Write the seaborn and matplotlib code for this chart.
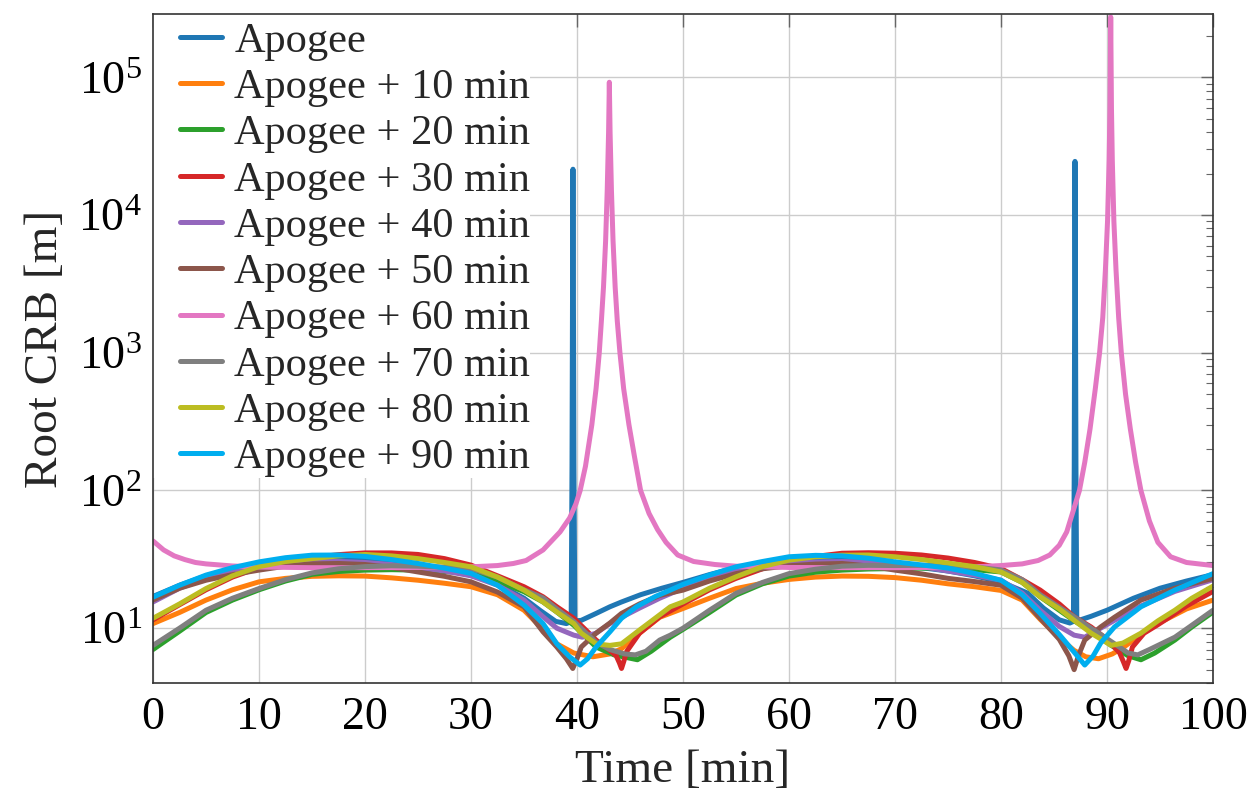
import matplotlib
matplotlib.use("Agg")
import matplotlib.pyplot as plt
import pandas as pd
import seaborn as sns
from matplotlib.lines import Line2D
from matplotlib.patches import Rectangle
from matplotlib.ticker import LogLocator, NullFormatter, FixedLocator

sns.set_style("white")
plt.rcParams["font.family"] = ["Liberation Serif", "DejaVu Serif"]
plt.rcParams["mathtext.fontset"] = "custom"
plt.rcParams["mathtext.rm"] = "Liberation Serif"
plt.rcParams["mathtext.it"] = "Liberation Serif:italic"
plt.rcParams["mathtext.bf"] = "Liberation Serif:bold"

# ---------------- data ----------------
labels = ["Apogee", "Apogee + 10 min", "Apogee + 20 min", "Apogee + 30 min",
          "Apogee + 40 min", "Apogee + 50 min", "Apogee + 60 min",
          "Apogee + 70 min", "Apogee + 80 min", "Apogee + 90 min"]

t_apogee = [0, 2.5, 5, 7.5, 10, 12.5, 15, 17.5, 20, 22.5, 25, 27.5, 30, 32.5, 35, 36.5, 38, 39,
            39.45, 39.53, 39.58, 39.62, 39.66, 39.71, 39.8, 40.4, 41.8, 43.1, 44.2, 46, 48, 50,
            52.5, 55, 57.5, 60, 62.5, 65, 67.5, 70, 72.5, 75, 77.5, 80, 82.5, 84, 85.5, 86.5,
            86.83, 86.91, 86.95, 86.98, 87.02, 87.07, 87.15, 87.5, 88.5, 90, 92.5, 95, 97.5, 100]
crb_apogee = [17, 20.5, 24, 27, 29.5, 31, 32, 32.3, 31.8, 30.5, 28.5, 26.5, 24.3, 21, 16.5, 13.5, 11.2, 10.8,
              11.2, 150, 3000, 21500, 3000, 150, 11.3, 11.4, 12.8, 14.3, 15.5, 17.5, 19.5, 21.5,
              24.5, 27.5, 30, 31.2, 31.8, 31.5, 30.5, 29, 27.5, 26, 24, 21.7, 18, 14, 11.5, 10.9,
              11.2, 150, 3000, 24500, 3000, 150, 11.3, 11.5, 12.2, 13.5, 16.5, 19.5, 22, 24.5]

t_10 = [0, 2.5, 5, 7.5, 10, 12.5, 15, 17.5, 20, 22.5, 25, 27.5, 30, 32.5, 35, 36.8, 38.1, 39.7,
        41.5, 43.1, 44.2, 45.9, 47.8, 50, 52.5, 55, 57.5, 60, 62.5, 65, 67.5, 70, 72.5, 75, 77.5,
        80, 82, 83.7, 85.5, 86.9, 88, 89.2, 90.5, 91.6, 93, 94.8, 97.5, 100]
crb_10 = [10.8, 13, 16, 19, 21.7, 23, 23.8, 24, 23.9, 23.2, 22.3, 21.2, 20, 17.5, 13.5, 9.8, 7.7, 6.6,
          6.2, 6.5, 7.1, 9.2, 12, 13.9, 16.5, 19.4, 21.2, 22.6, 23.5, 23.9, 23.8, 23.3, 22.3, 21, 20,
          18.8, 16, 11.6, 8.5, 6.9, 6.2, 6.0, 6.5, 7.3, 8.8, 10.8, 13.8, 16]

t_20 = [0, 2.5, 5, 7.5, 10, 12.5, 15, 17.5, 20, 22.5, 25, 27.5, 30, 32.5, 35, 36.8, 38.1, 39.7,
        41.8, 43.5, 45.7, 47, 48.8, 50, 52.5, 55, 57.5, 60, 62.5, 65, 67.5, 70, 72.5, 75, 77.5,
        80, 82, 83.7, 85.5, 87, 88.5, 90.4, 92, 93.2, 94.5, 96.4, 98, 100]
crb_20 = [7.0, 9.5, 13, 16, 19, 22, 24.6, 25.8, 26.4, 26.6, 26.4, 25.8, 25, 22, 18.4, 15.5, 13.1, 10.5,
          7.3, 6.4, 5.9, 6.8, 8.6, 9.8, 13, 17.4, 21, 23.9, 25.5, 26.4, 26.9, 27.1, 27.3, 27.2, 26.6,
          25.6, 21.5, 16.9, 13.5, 11.2, 9.5, 7.5, 6.3, 5.9, 6.6, 8.2, 10.2, 13.1]

t_30 = [0, 2.5, 5, 7.5, 10, 12.5, 15, 17.5, 20, 22.5, 25, 27.5, 30, 32.5, 35, 36.8, 38.1, 39.7,
        41.8, 43.1, 43.7, 44.0, 44.2, 44.4, 44.7, 45.9, 47.8, 50, 52.5, 55, 57.5, 60, 62.5, 65,
        67.5, 70, 72.5, 75, 77.5, 80, 82, 83.7, 85.5, 86.9, 88.5, 90.1, 91.2, 91.55, 91.8, 92.05,
        92.4, 93.5, 94.8, 97.5, 100]
crb_30 = [11.5, 14.8, 19, 23.5, 27.5, 30.5, 32.5, 34.2, 35.2, 35.2, 34.3, 32, 28.7, 24, 20, 16.9, 14.3, 11.8,
          8.2, 6.9, 6.3, 5.6, 5.1, 5.7, 6.8, 9.2, 12.1, 15, 19, 23, 27, 31, 33.2, 35,
          35.3, 35, 34, 32.3, 30, 27.1, 22.5, 18.9, 15, 12.1, 10.2, 8.2, 6.6, 5.7, 5.1, 5.8,
          7.3, 9.2, 10.6, 14.5, 18.5]

t_40 = [0, 2.5, 5, 7.5, 10, 12.5, 15, 17.5, 20, 22.5, 25, 27.5, 30, 32.5, 35, 36.8, 38.1, 39.7,
        40.5, 41.8, 43.1, 44.2, 45.9, 47.8, 50, 52.5, 55, 57.5, 60, 62.5, 65, 67.5, 70, 72.5, 75,
        77.5, 80, 82, 83.7, 85.5, 86.9, 87.9, 89.4, 90.7, 93.2, 96.4, 100]
crb_40 = [15.5, 19.5, 23, 26.5, 29, 30.2, 30.5, 30.5, 30, 29, 27.5, 26, 24, 20.5, 16, 12.1, 10, 8.9,
          8.6, 9.2, 10.8, 12, 14, 16.5, 19.5, 23, 26.5, 28.5, 29.5, 30.2, 30.5, 30.2, 29, 28, 26,
          24.3, 22.3, 18, 13.5, 10.3, 8.9, 8.6, 10, 11.4, 14.5, 18.5, 22.5]

t_50 = [0, 2.5, 5, 7.5, 10, 12.5, 15, 17.5, 20, 22.5, 25, 27.5, 30, 32.5, 35, 36.8, 38.1, 39.0,
        39.6, 40.0, 40.4, 41.8, 43.1, 44.2, 45.9, 47.8, 50, 52.5, 55, 57.5, 60, 62.5, 65, 67.5,
        70, 72.5, 75, 77.5, 80, 82, 83.7, 85.5, 86.4, 86.9, 87.3, 87.9, 89.4, 90.7, 93.2, 96.4, 100]
crb_50 = [16, 19.5, 22.3, 24.5, 26.4, 28.2, 29.3, 29.5, 29, 27.6, 25.6, 23.8, 21.7, 18.3, 14.3, 9.4, 7.3, 6.0,
          5.1, 6.0, 7.3, 9.2, 10.9, 12.8, 15, 17.3, 18.9, 22, 24.9, 27, 28.4, 29.2, 29.5, 28.3,
          26.4, 24.8, 23, 21.8, 20.5, 16.5, 11.8, 8.3, 6.3, 5.0, 6.3, 8.2, 10.2, 12, 16, 19.5, 23]

t_60 = [0, 1, 2, 3, 4, 5, 7.5, 10, 15, 20, 25, 30, 32.5, 34, 35.2, 36.8, 38.4, 39.3, 39.9,
        40.3, 40.8, 41.4, 41.8, 42.1, 42.3, 42.5, 42.7, 42.85, 42.98, 43.05, 43.12, 43.25, 43.4,
        43.6, 43.8, 44.05, 44.4, 44.9, 45.4, 46.0, 46.8, 47.6, 48.4, 49.5, 51, 53, 55, 60, 65,
        70, 75, 78, 80, 82, 83.5, 84.6, 85.5, 86.2, 87.1, 87.4, 87.9, 88.4, 88.9, 89.3, 89.6,
        89.85, 90.05, 90.2, 90.28, 90.35, 90.42, 90.5, 90.65, 90.85, 91.1, 91.35, 91.75, 92.2,
        92.7, 93.2, 94.0, 94.8, 96, 97.5, 100]
crb_60 = [43, 37, 33.5, 31.5, 30, 29.3, 28.3, 27.8, 27.5, 27.5, 27.6, 27.9, 28.5, 29.5, 31, 37, 50, 63, 80,
          100, 150, 300, 550, 1000, 1700, 3000, 6500, 15000, 40000, 92000, 40000, 15000, 6500,
          3000, 1700, 1000, 550, 300, 180, 100, 68, 52, 42, 34, 30.5, 29, 28.2, 27.6, 27.5,
          27.5, 27.7, 28, 28.5, 29.3, 31, 34, 40, 50, 84, 100, 160, 280, 550, 1000, 1800,
          4000, 9000, 25000, 60000, 274000, 60000, 25000, 9000, 4000, 1800, 1000, 500, 280,
          160, 100, 60, 42, 33, 30, 28.5]

t_70 = [0, 2.5, 5, 7.5, 10, 12.5, 15, 17.5, 20, 22.5, 25, 27.5, 30, 32.5, 35, 36.8, 38.1, 39.7,
        41.8, 43.1, 44.5, 45.5, 46.5, 47.8, 48.8, 50, 52.5, 55, 57.5, 60, 62.5, 65, 67.5, 70, 72.5,
        75, 77.5, 80, 82, 83.7, 85.5, 86.9, 88.5, 90.4, 92, 92.9, 94, 96.4, 98, 100]
crb_70 = [7.5, 10, 13.5, 16.5, 19.4, 22.5, 25.2, 27, 28, 28.4, 28.2, 27.7, 27.1, 23.5, 19, 16.6, 13.8, 11.2,
          7.9, 7.0, 6.5, 6.4, 6.8, 8.2, 8.9, 10, 13.5, 17.9, 21.5, 24.9, 26.8, 28.2, 28.6, 28.5, 28.6,
          28.6, 27.8, 26.5, 22.5, 17.5, 14.2, 12.1, 10, 8, 6.6, 6.4, 7, 8.6, 10.5, 13.5]

t_80 = [0, 2.5, 5, 7.5, 10, 12.5, 15, 17.5, 20, 22.5, 25, 27.5, 30, 32.5, 35, 36.8, 38.1, 39.7,
        40.4, 41.8, 43.1, 44.2, 45.9, 47.8, 48.8, 50, 52.5, 55, 57.5, 60, 62.5, 65, 67.5, 70, 72.5,
        75, 77.5, 80, 82, 83.7, 85.5, 86.9, 88.5, 90.4, 91.5, 93.2, 94.8, 96.4, 98, 100]
crb_80 = [11.8, 15, 19.4, 24, 28, 30.5, 32, 33.5, 34.3, 33.5, 32, 30, 27.9, 23.5, 18.9, 15.5, 13.1, 10.8,
          9.2, 7.7, 7.5, 7.7, 9.7, 12.5, 14.3, 15.5, 19.5, 23.6, 28, 31.2, 33, 33.9, 34, 33, 31.5,
          29.7, 28, 25.6, 21.5, 16.9, 13.8, 11.4, 9.2, 7.5, 7.8, 9.2, 11.3, 13.5, 16.5, 20.2]

t_90 = [0, 2.5, 5, 7.5, 10, 12.5, 15, 17.5, 20, 22.5, 25, 27.5, 30, 32.5, 35, 36.8, 38.1, 39.3,
        40.3, 41.0, 41.8, 43.1, 44.2, 45.6, 47.4, 48.8, 50, 52.5, 55, 57.5, 60, 62.5, 65, 67.5, 70,
        72.5, 75, 77.5, 80, 82, 83.7, 85.5, 86.9, 87.9, 88.7, 89.4, 90.7, 93.2, 96.4, 100]
crb_90 = [16.8, 20.5, 24.3, 27.5, 30.3, 32.5, 33.9, 34, 33.2, 31.5, 29.5, 27.3, 25, 20.5, 14.7, 10.8, 7.7, 6.2,
          5.4, 6.0, 7.3, 9.4, 11.8, 14.3, 17, 18.9, 20.8, 24.3, 27.9, 30.5, 33, 33.8, 33.5, 32.2, 30.3,
          28.8, 27.3, 25, 22.3, 17.5, 12.8, 9, 6.7, 5.4, 6.3, 7.8, 10.2, 14.3, 18.9, 24.9]

times = [t_apogee, t_10, t_20, t_30, t_40, t_50, t_60, t_70, t_80, t_90]
values = [crb_apogee, crb_10, crb_20, crb_30, crb_40, crb_50, crb_60, crb_70, crb_80, crb_90]

colors = ["#1f77b4", "#ff7f0e", "#2ca02c", "#d62728", "#9467bd",
          "#8c564b", "#e377c2", "#7f7f7f", "#bcbd22", "#00aeef"]

x_ticks = [0, 10, 20, 30, 40, 50, 60, 70, 80, 90, 100]
y_ticks = [1e1, 1e2, 1e3, 1e4, 1e5]
y_ticklabels = [r"$10^{1}$", r"$10^{2}$", r"$10^{3}$", r"$10^{4}$", r"$10^{5}$"]

# ---------------- build long-form table ----------------
frames = []
for lab, t, v in zip(labels, times, values):
    frames.append(pd.DataFrame({"Time": t, "CRB": v, "Series": lab}))
df = pd.concat(frames, ignore_index=True)

W, H = 1254, 794
fig = plt.figure(figsize=(W / 100, H / 100), dpi=100)
L, R, T, B = 153, 1213, 14, 683
ax = fig.add_axes([L / W, 1 - B / H, (R - L) / W, (B - T) / H])

LW = 3.6
sns.lineplot(data=df, x="Time", y="CRB", hue="Series", hue_order=labels,
             palette=colors, estimator=None, sort=False, linewidth=LW,
             ax=ax, legend=False)
for ln in ax.lines:
    ln.set_linewidth(LW)
    ln.set_solid_joinstyle("round")
    ln.set_solid_capstyle("round")

ax.set_yscale("log")
ax.set_xlim(0, 100)
ax.set_ylim(4.0, 2.88e5)

ax.xaxis.set_major_locator(FixedLocator(x_ticks))
ax.set_xticklabels([str(v) for v in x_ticks])
ax.yaxis.set_major_locator(FixedLocator(y_ticks))
ax.set_yticklabels(y_ticklabels)
ax.yaxis.set_minor_locator(LogLocator(base=10, subs=[2, 3, 4, 5, 6, 7, 8, 9], numticks=20))
ax.yaxis.set_minor_formatter(NullFormatter())

ax.grid(True, which="major", color="#cccccc", linewidth=1.0)
ax.set_axisbelow(True)

ax.tick_params(which="both", direction="in", top=True, right=True,
               color="#666666", labelcolor="black")
ax.tick_params(which="major", length=9, width=1.0, labelsize=33)
ax.tick_params(which="minor", length=5, width=0.8)
ax.tick_params(axis="x", which="major", pad=10)
ax.tick_params(axis="y", which="major", pad=8)

for s in ax.spines.values():
    s.set_color("#333333")
    s.set_linewidth(1.2)

ax.set_xlabel("Time [min]", fontsize=34, labelpad=7)
ax.set_ylabel("Root CRB [m]", fontsize=34, labelpad=8)

# white legend background (no border), from the left axis to about x=530 px, down to y=478 px
ax.add_patch(Rectangle((0, (B - 478) / (B - T)), (530 - L) / (R - L), (478 - T) / (B - T),
                       transform=ax.transAxes, facecolor="white", edgecolor="none",
                       zorder=1.5))

handles = [Line2D([], [], color=c, lw=LW) for c in colors]
ax.legend(handles, labels, loc="upper left", bbox_to_anchor=(19 / (R - L), 1),
          frameon=False, fontsize=30.5, handlelength=1.0, handletextpad=0.28,
          labelspacing=0.18, borderpad=0.19, borderaxespad=0)

fig.savefig("out.png", dpi=100)
